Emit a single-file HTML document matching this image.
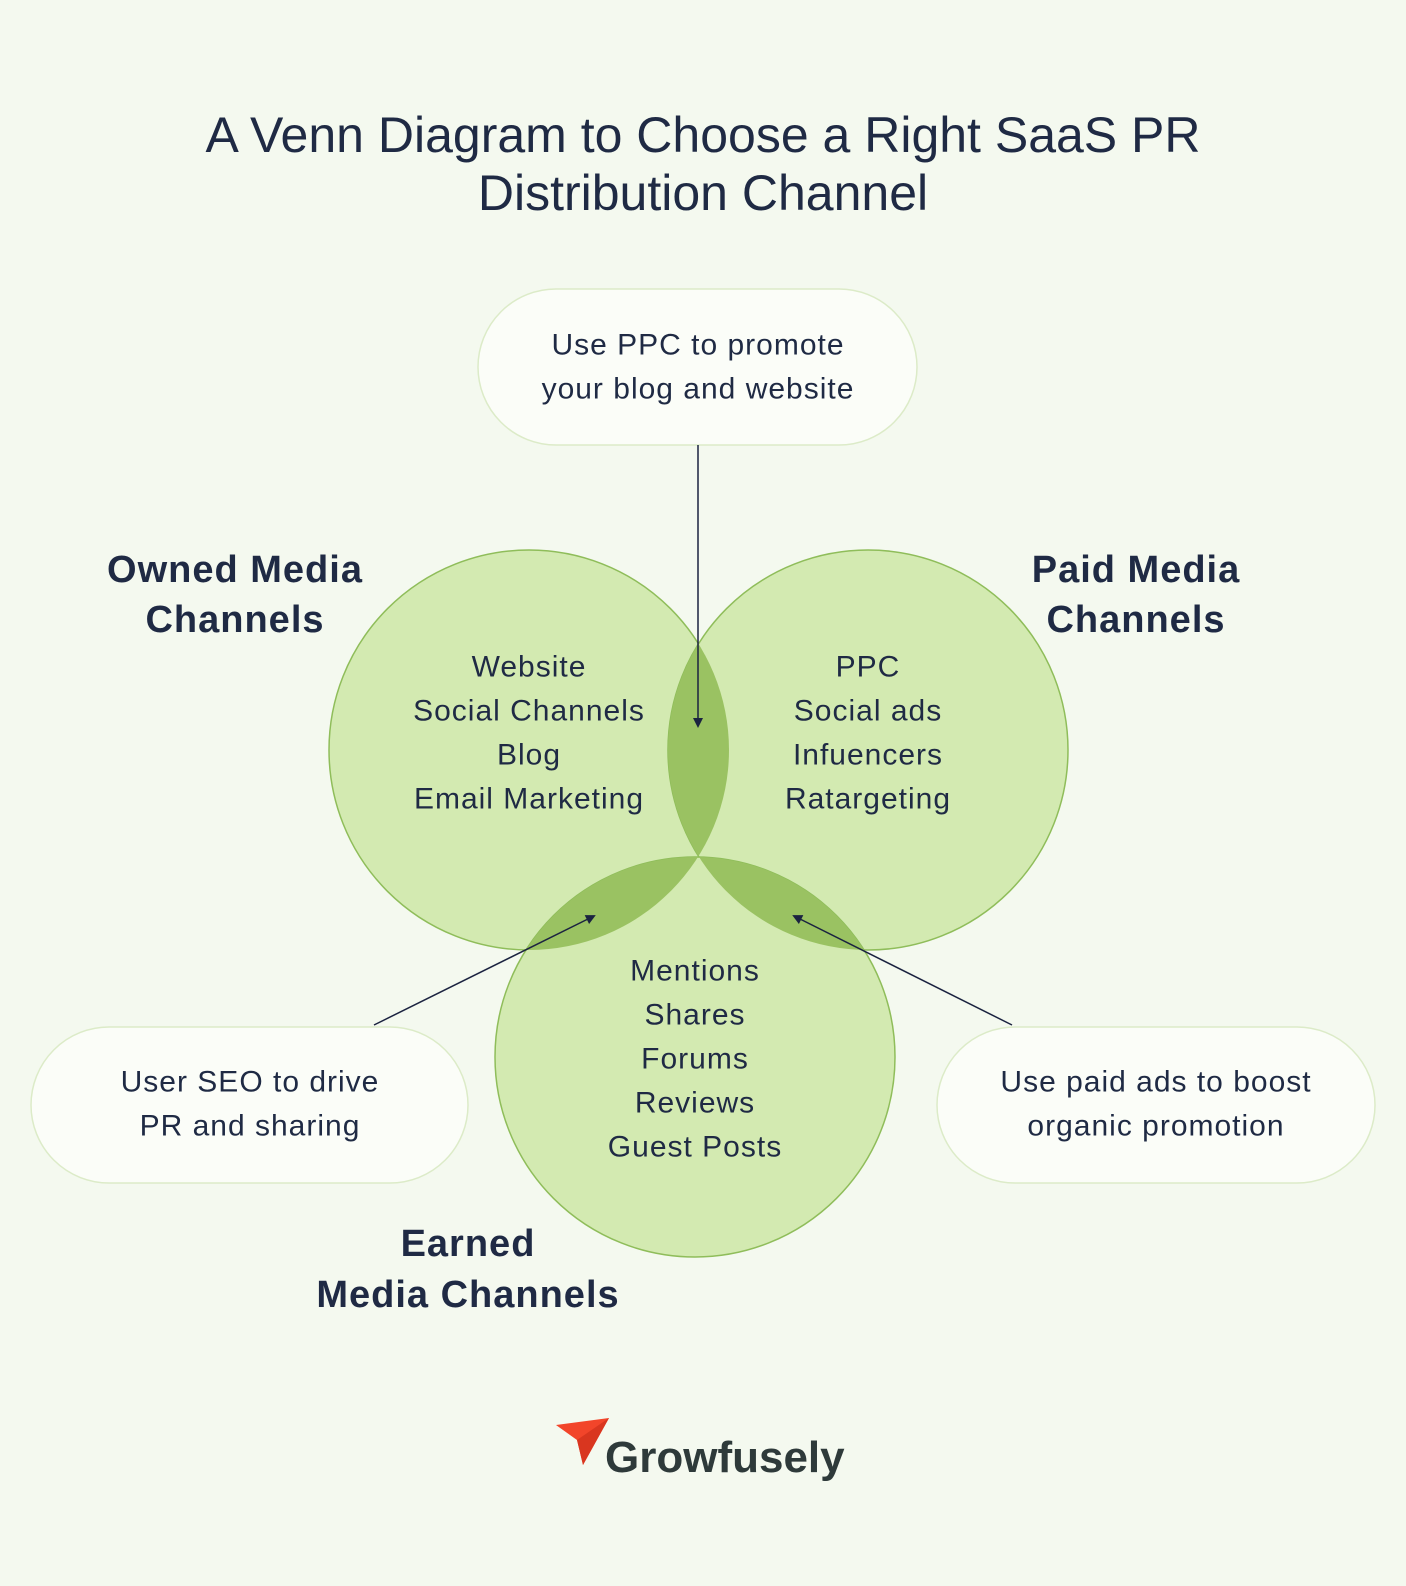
<!DOCTYPE html>
<html><head><meta charset="utf-8"><style>
html,body{margin:0;padding:0;background:#f4f9ef;}
svg{display:block;font-family:"Liberation Sans",sans-serif;}
</style></head><body>
<svg width="1406" height="1586" viewBox="0 0 1406 1586" xmlns="http://www.w3.org/2000/svg">
<defs>
<clipPath id="cA"><circle cx="529" cy="750" r="200"/></clipPath>
<clipPath id="cB"><circle cx="868" cy="750" r="200"/></clipPath>
<marker id="ar" markerWidth="10" markerHeight="10" refX="8" refY="5" orient="auto" markerUnits="userSpaceOnUse"><path d="M0,0 L10,5 L0,10 z" fill="#1b2340"/></marker>
</defs>
<rect width="1406" height="1586" fill="#f4f9ef"/>
<g fill="#1f2a44" text-anchor="middle" font-size="50">
<text x="703" y="152">A Venn Diagram to Choose a Right SaaS PR</text>
<text x="703" y="210">Distribution Channel</text>
</g>
<g fill="#d3eab1" stroke="#8fbd5a" stroke-width="1.5">
<circle cx="529" cy="750" r="200"/>
<circle cx="868" cy="750" r="200"/>
<circle cx="695" cy="1057" r="200"/>
</g>
<g fill="#9ac262">
<circle cx="868" cy="750" r="200" clip-path="url(#cA)"/>
<circle cx="695" cy="1057" r="200" clip-path="url(#cA)"/>
<circle cx="695" cy="1057" r="200" clip-path="url(#cB)"/>
</g>
<g fill="#fbfdf8" stroke="#dcebc8" stroke-width="1.5">
<rect x="478" y="289" width="439" height="156" rx="78"/>
<rect x="31" y="1027" width="437" height="156" rx="78"/>
<rect x="937" y="1027" width="438" height="156" rx="78"/>
</g>
<g stroke="#1b2340" stroke-width="1.5" marker-end="url(#ar)">
<line x1="698" y1="445" x2="698" y2="726"/>
<line x1="374" y1="1025" x2="594" y2="916"/>
<line x1="1012" y1="1025" x2="794" y2="916"/>
</g>
<g fill="#1f2a44" text-anchor="middle" font-size="30" letter-spacing="1" dominant-baseline="central">
<text x="698" y="345">Use PPC to promote</text>
<text x="698" y="389">your blog and website</text>
<text x="250" y="1082">User SEO to drive</text>
<text x="250" y="1126">PR and sharing</text>
<text x="1156" y="1082">Use paid ads to boost</text>
<text x="1156" y="1126">organic promotion</text>
<text x="529" y="667">Website</text>
<text x="529" y="711">Social Channels</text>
<text x="529" y="755">Blog</text>
<text x="529" y="799">Email Marketing</text>
<text x="868" y="667">PPC</text>
<text x="868" y="711">Social ads</text>
<text x="868" y="755">Infuencers</text>
<text x="868" y="799">Ratargeting</text>
<text x="695" y="971">Mentions</text>
<text x="695" y="1015">Shares</text>
<text x="695" y="1059">Forums</text>
<text x="695" y="1103">Reviews</text>
<text x="695" y="1147">Guest Posts</text>
</g>
<g fill="#1f2a44" text-anchor="middle" font-size="38" font-weight="bold" letter-spacing="1" dominant-baseline="central">
<text x="235" y="570">Owned Media</text>
<text x="235" y="620">Channels</text>
<text x="1136" y="570">Paid Media</text>
<text x="1136" y="620">Channels</text>
<text x="468" y="1244">Earned</text>
<text x="468" y="1295">Media Channels</text>
</g>
<g>
<path d="M556,1425 L609,1418 L583,1465 L577,1440 Z" fill="#f2452a"/>
<path d="M577,1440 L609,1418 L583,1465 Z" fill="#d9361f"/>
<text x="605" y="1472" font-size="44" font-weight="bold" fill="#2e3a3a">Growfusely</text>
</g>
</svg>
</body></html>
